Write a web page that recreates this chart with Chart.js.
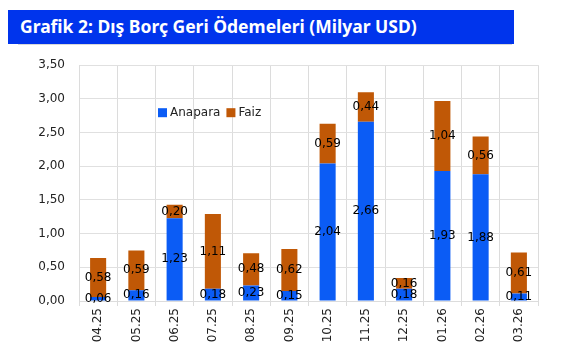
<!DOCTYPE html>
<html>
<head>
<meta charset="utf-8">
<script src="https://cdn.jsdelivr.net/npm/chart.js@4"></script>
<style>
  body { margin: 0; background: #fff; width: 567px; height: 354px; overflow: hidden; position: relative; }
  .title { position: absolute; left: 8px; top: 10px; width: 506px; height: 34px; background: #0034EC;
           color: #fff; font-family: "Noto Sans", sans-serif; font-weight: bold; font-size: 17.5px;
           line-height: 33px; padding-left: 12px; box-sizing: border-box; }
  .frame { position: absolute; left: 18px; top: 44px; width: 494px; height: 1px; background: #d8d8d8; }
  .wrap { position: absolute; left: 0; top: 44px; width: 567px; height: 310px; }
</style>
</head>
<body>
<div class="title">Grafik 2: Dış Borç Geri Ödemeleri (Milyar USD)</div>
<div class="frame"></div>
<div class="wrap"><canvas id="chart"></canvas></div>
<script>
const months = ['04.25', '05.25', '06.25', '07.25', '08.25', '09.25', '10.25', '11.25', '12.25', '01.26', '02.26', '03.26'];
const anapara = [0.06, 0.16, 1.23, 0.18, 0.23, 0.15, 2.04, 2.66, 0.18, 1.93, 1.88, 0.11];
const faiz = [0.58, 0.59, 0.20, 1.11, 0.48, 0.62, 0.59, 0.44, 0.16, 1.04, 0.56, 0.61];

const fmt = v => v.toFixed(2).replace('.', ',');

// labels in the middle of each segment
const segmentLabels = {
  id: 'segmentLabels',
  afterDatasetsDraw(chart) {
    const ctx = chart.ctx;
    ctx.save();
    ctx.font = '12px "DejaVu Sans"';
    ctx.fillStyle = '#000';
    ctx.textAlign = 'center';
    ctx.textBaseline = 'middle';
    chart.data.datasets.forEach((ds, i) => {
      chart.getDatasetMeta(i).data.forEach((bar, j) => {
        ctx.fillText(fmt(ds.data[j]), bar.x, (bar.y + bar.base) / 2);
      });
    });
    ctx.restore();
  }
};

// legend sitting inside the plot
const innerLegend = {
  id: 'innerLegend',
  afterDraw(chart) {
    const ctx = chart.ctx;
    const x0 = chart.chartArea.left + 79;
    const y = chart.chartArea.top + 47;
    ctx.save();
    ctx.font = '12px "DejaVu Sans"';
    ctx.textBaseline = 'middle';
    let x = x0;
    chart.data.datasets.forEach(ds => {
      ctx.fillStyle = ds.backgroundColor;
      ctx.fillRect(x, y - 4, 9, 9);
      ctx.fillStyle = '#222';
      ctx.fillText(ds.label, x + 12, y + 1);
      x += 12 + ctx.measureText(ds.label).width + 6;
    });
    ctx.restore();
  }
};

new Chart(document.getElementById('chart'), {
  type: 'bar',
  data: {
    labels: months,
    datasets: [
      { label: 'Anapara', data: anapara, backgroundColor: '#0B5CF5' },
      { label: 'Faiz', data: faiz, backgroundColor: '#C05806' }
    ]
  },
  options: {
    responsive: true,
    maintainAspectRatio: false,
    animation: false,
    layout: { padding: { top: 17, right: 29, left: 0, bottom: 0 } },
    datasets: { bar: { barPercentage: 0.42, categoryPercentage: 1.0 } },
    plugins: { legend: { display: false }, tooltip: { enabled: false } },
    scales: {
      x: {
        stacked: true,
        grid: { color: '#dcdcdc', tickLength: 5 },
        border: { color: '#dcdcdc' },
        ticks: { minRotation: 90, maxRotation: 90, color: '#222', font: { family: 'DejaVu Sans', size: 12 }, padding: 2 },
        afterFit(scale) { scale.height = 53; }
      },
      y: {
        stacked: true,
        min: 0,
        max: 3.5,
        grid: { color: '#e0e0e0', drawTicks: false },
        border: { color: '#dcdcdc' },
        ticks: { stepSize: 0.5, color: '#222', font: { family: 'DejaVu Sans', size: 12 }, padding: 14,
                 callback: v => fmt(v) },
        afterFit(scale) { scale.width = 79; }
      }
    }
  },
  plugins: [segmentLabels, innerLegend]
});
</script>
</body>
</html>
